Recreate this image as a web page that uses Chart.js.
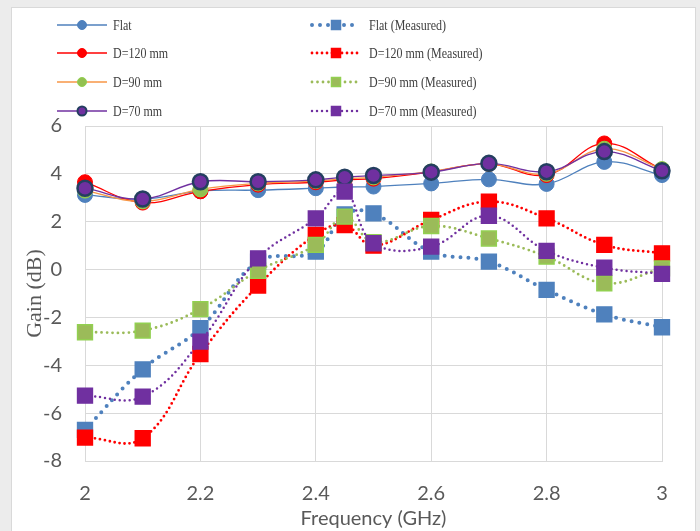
<!DOCTYPE html>
<html lang="en">
<head>
<meta charset="UTF-8">
<title>Gain vs Frequency</title>
<script src="https://cdn.jsdelivr.net/npm/chart.js@4.4.1/dist/chart.umd.min.js"></script>
<style>
    body { margin: 0; }
    .wrap { position: relative; width: 700px; height: 531px; background: #ececec; overflow: hidden; }
    .box { position: absolute; left: 11px; top: 7px; width: 683px; height: 540px; background: #fff; border: 1px solid #d9d9d9; }
    #chart { position: absolute; left: 0; top: 0; }
</style>
</head>
<body>
<div class="wrap">
    <div class="box"></div>
    <canvas id="chart" width="700" height="531"></canvas>
</div>

<script>
// frequency points (GHz)
const freqs = [2, 2.1, 2.2, 2.3, 2.4, 2.45, 2.5, 2.6, 2.7, 2.8, 2.9, 3];

// simulated gain (dB)
const flat = [3.12, 2.95, 3.28, 3.32, 3.4, 3.45, 3.47, 3.6, 3.77, 3.58, 4.5, 3.95];
const d120 = [3.65, 2.8, 3.27, 3.55, 3.65, 3.75, 3.8, 4.08, 4.42, 3.95, 5.27, 4.18];
const d90 = [3.3, 2.85, 3.35, 3.6, 3.7, 3.8, 3.85, 4.1, 4.42, 4.0, 5.05, 4.2];
const d70 = [3.4, 2.95, 3.67, 3.67, 3.75, 3.86, 3.93, 4.07, 4.44, 4.09, 4.93, 4.13];

// measured gain (dB)
const flatM = [-6.7, -4.17, -2.45, 0.33, 0.75, 2.3, 2.35, 0.75, 0.33, -0.85, -1.87, -2.41];
const d120M = [-7.02, -7.05, -3.53, -0.67, 1.45, 1.86, 1.0, 2.07, 2.84, 2.14, 1.03, 0.68];
const d90M = [-2.62, -2.55, -1.65, -0.05, 1.03, 2.21, 1.15, 1.82, 1.3, 0.54, -0.57, 0.05];
const d70M = [-5.27, -5.31, -3.01, 0.47, 2.14, 3.26, 1.1, 0.96, 2.25, 0.78, 0.08, -0.18];

const xTicks = [2, 2.2, 2.4, 2.6, 2.8, 3];
const yTicks = [-8, -6, -4, -2, 0, 2, 4, 6];

function pts(vals) {
    return vals.map((v, i) => ({ x: freqs[i], y: v }));
}

// solid line with round markers
function sim(label, vals, line, fill, edge, edgeW) {
    return {
        label: label, data: pts(vals),
        borderColor: line, borderWidth: 1.3,
        pointStyle: 'circle', pointRadius: 7.5,
        pointBackgroundColor: fill, pointBorderColor: edge, pointBorderWidth: edgeW,
        tension: 0.4, clip: false
    };
}

// dotted line with square markers
function meas(label, vals, col, fill, edge, w, gap) {
    return {
        label: label, data: pts(vals),
        borderColor: col, borderWidth: w, borderDash: [0, gap], borderCapStyle: 'round',
        pointStyle: 'rect', pointRadius: 10.5,
        pointBackgroundColor: fill, pointBorderColor: edge, pointBorderWidth: 1.5,
        tension: 0.4, clip: false
    };
}

const datasets = [
    sim('Flat', flat, '#4F81BD', '#4F81BD', '#4F81BD', 1),
    sim('D=120 mm', d120, '#FF0000', '#FF0000', '#FF0000', 1),
    sim('D=90 mm', d90, '#F79646', '#92C050', '#92D050', 1),
    sim('D=70 mm', d70, '#7030A0', '#7030A0', '#243F60', 2.5),
    meas('Flat (Measured)', flatM, '#4F81BD', '#4F81BD', '#4F81BD', 4, 8),
    meas('D=120 mm (Measured)', d120M, '#FF0000', '#FF0000', '#FF0000', 2.8, 5),
    meas('D=90 mm (Measured)', d90M, '#9BBB59', '#9BBB59', '#92D050', 2.8, 5.5),
    meas('D=70 mm (Measured)', d70M, '#7030A0', '#7030A0', '#7030A0', 2.5, 5)
];
// later series on top, as in the original
datasets.forEach((d, i) => { d.order = datasets.length - 1 - i; });

// two-column legend at the top
const legendPlugin = {
    id: 'twoColLegend',
    afterDraw(chart) {
        const ctx = chart.ctx;
        const rows = [25, 53, 82, 111];
        const cols = [{ x0: 57, x1: 107, tx: 113 }, { x0: 312, x1: 360, tx: 369 }];
        chart.data.datasets.forEach((ds, i) => {
            const c = cols[Math.floor(i / 4)];
            const y = rows[i % 4];
            ctx.save();
            ctx.strokeStyle = ds.borderColor;
            ctx.lineWidth = ds.borderWidth;
            ctx.lineCap = ds.borderCapStyle || 'butt';
            ctx.setLineDash(ds.borderDash || []);
            ctx.beginPath();
            ctx.moveTo(c.x0, y);
            ctx.lineTo(c.x1, y);
            ctx.stroke();
            ctx.setLineDash([]);
            const mx = (c.x0 + c.x1) / 2;
            ctx.fillStyle = ds.pointBackgroundColor;
            ctx.strokeStyle = ds.pointBorderColor;
            ctx.lineWidth = Math.min(ds.pointBorderWidth, 2);
            ctx.beginPath();
            if (ds.pointStyle === 'rect') ctx.rect(mx - 4.5, y - 4.5, 9, 9);
            else ctx.arc(mx, y, 4.5, 0, Math.PI * 2);
            ctx.fill();
            ctx.stroke();
            ctx.fillStyle = '#404040';
            ctx.font = '15px "Liberation Serif", "Times New Roman", serif';
            ctx.textBaseline = 'alphabetic';
            ctx.translate(c.tx, y + 5);
            ctx.scale(0.8, 1);
            ctx.fillText(ds.label, 0, 0);
            ctx.restore();
        });
    }
};

const ctx = document.getElementById('chart').getContext('2d');

const myChart = new Chart(ctx, {
    type: 'line',
    data: { datasets: datasets },
    options: {
        responsive: false,
        animation: false,
        events: [],
        layout: {
            padding: { top: 126, right: 38, bottom: 0, left: 0 }
        },
        plugins: {
            legend: { display: false },
            tooltip: { enabled: false }
        },
        scales: {
            x: {
                type: 'linear',
                min: xTicks[0],
                max: xTicks[xTicks.length - 1],
                afterFit: (scale) => { scale.height = 70; },
                afterBuildTicks: (scale) => { scale.ticks = xTicks.map(v => ({ value: v })); },
                grid: { color: '#d9d9d9', drawTicks: false },
                border: { color: '#d9d9d9' },
                ticks: {
                    padding: 21,
                    color: '#595959',
                    font: { family: 'Lato', size: 20 },
                    callback: (v) => String(Math.round(v * 10) / 10)
                },
                title: {
                    display: true,
                    text: 'Frequency (GHz)',
                    color: '#595959',
                    font: { family: 'Lato', size: 20 },
                    padding: { top: 0, bottom: 0 }
                }
            },
            y: {
                min: yTicks[0],
                max: yTicks[yTicks.length - 1],
                afterFit: (scale) => { scale.width = 85; },
                afterBuildTicks: (scale) => { scale.ticks = yTicks.map(v => ({ value: v })); },
                grid: { color: '#d9d9d9', drawTicks: false },
                border: { color: '#d9d9d9' },
                ticks: {
                    padding: 23,
                    color: '#595959',
                    font: { family: 'Lato', size: 20 },
                    callback: (v) => String(v)
                },
                title: {
                    display: true,
                    text: 'Gain (dB)',
                    color: '#595959',
                    font: { family: '"Liberation Serif", "Times New Roman", serif', size: 22 },
                    padding: { top: 22, bottom: 0 }
                }
            }
        }
    },
    plugins: [legendPlugin]
});
</script>
</body>
</html>
